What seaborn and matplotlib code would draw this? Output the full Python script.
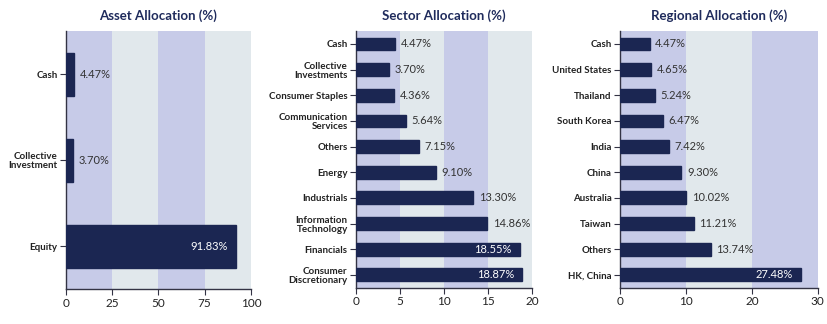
import matplotlib
matplotlib.use("Agg")
import matplotlib.pyplot as plt
import seaborn as sns
import pandas as pd

sns.set_theme(style="white")
plt.rcParams['font.family'] = ['Lato', 'DejaVu Sans']

asset_cats = ["Cash", "Collective\nInvestment", "Equity"]
asset_vals = [4.47, 3.70, 91.83]

sector_cats = ["Cash", "Collective\nInvestments", "Consumer Staples", "Communication\nServices",
               "Others", "Energy", "Industrials", "Information\nTechnology", "Financials",
               "Consumer\nDiscretionary"]
sector_vals = [4.47, 3.70, 4.36, 5.64, 7.15, 9.10, 13.30, 14.86, 18.55, 18.87]

region_cats = ["Cash", "United States", "Thailand", "South Korea", "India", "China",
               "Australia", "Taiwan", "Others", "HK, China"]
region_vals = [4.47, 4.65, 5.24, 6.47, 7.42, 9.30, 10.02, 11.21, 13.74, 27.48]

NAVY = "#1b2652"
LAV = "#c7cbe8"
GREY = "#e1e8ec"
TITLE = "#1f2b5c"

panels = [
    ("Asset Allocation (%)", asset_cats, asset_vals, 100, 25, [0, 25, 50, 75, 100], 60,
     [0.0797, 0.107, 0.2234, 0.797]),
    ("Sector Allocation (%)", sector_cats, sector_vals, 20, 5, [0, 5, 10, 15, 20], 16,
     [0.430, 0.112, 0.213, 0.792]),
    ("Regional Allocation (%)", region_cats, region_vals, 30, 10, [0, 10, 20, 30], 20,
     [0.749, 0.112, 0.2385, 0.792]),
]

fig = plt.figure(figsize=(8.28, 3.24), dpi=100)

for title, cats, vals, xmax, band, ticks, inside_thr, pos in panels:
    ax = fig.add_axes(pos)
    df = pd.DataFrame({"cat": cats, "val": vals})
    b = 0
    i = 0
    while b < xmax:
        ax.axvspan(b, min(b + band, xmax), color=LAV if i % 2 == 0 else GREY, zorder=0, lw=0)
        b += band
        i += 1
    sns.barplot(data=df, x="val", y="cat", orient="h", color=NAVY, ax=ax,
                width=0.5, saturation=1, zorder=3, edgecolor=NAVY)
    ax.set_xlim(0, xmax)
    ax.set_xticks(ticks)
    ax.set_xticklabels([str(t) for t in ticks], fontsize=8.5, color="#222222")
    ax.set_xlabel("")
    ax.set_ylabel("")
    for lab in ax.get_yticklabels():
        lab.set_fontsize(7)
        lab.set_fontweight("bold")
        lab.set_color("#222222")
        lab.set_linespacing(1.0)
    for j, v in enumerate(vals):
        txt = f"{v:.2f}%"
        if v >= inside_thr:
            ax.annotate(txt, (v, j), xytext=(-6, 0), textcoords="offset points",
                        ha="right", va="center", color="white", fontsize=8, zorder=5)
        else:
            ax.annotate(txt, (v, j), xytext=(4, 0), textcoords="offset points",
                        ha="left", va="center", color="#333333", fontsize=8, zorder=5)
    ax.set_title(title, fontsize=9.5, fontweight="bold", color=TITLE, pad=8)
    for s in ["top", "right"]:
        ax.spines[s].set_visible(False)
    for s in ["left", "bottom"]:
        ax.spines[s].set_color("#333344")
        ax.spines[s].set_linewidth(1)
    ax.tick_params(axis="both", which="both", length=4, width=0.8, color="#333344",
                   bottom=True, left=True, pad=2)
    ax.grid(False)

fig.savefig("out.png", dpi=100)
